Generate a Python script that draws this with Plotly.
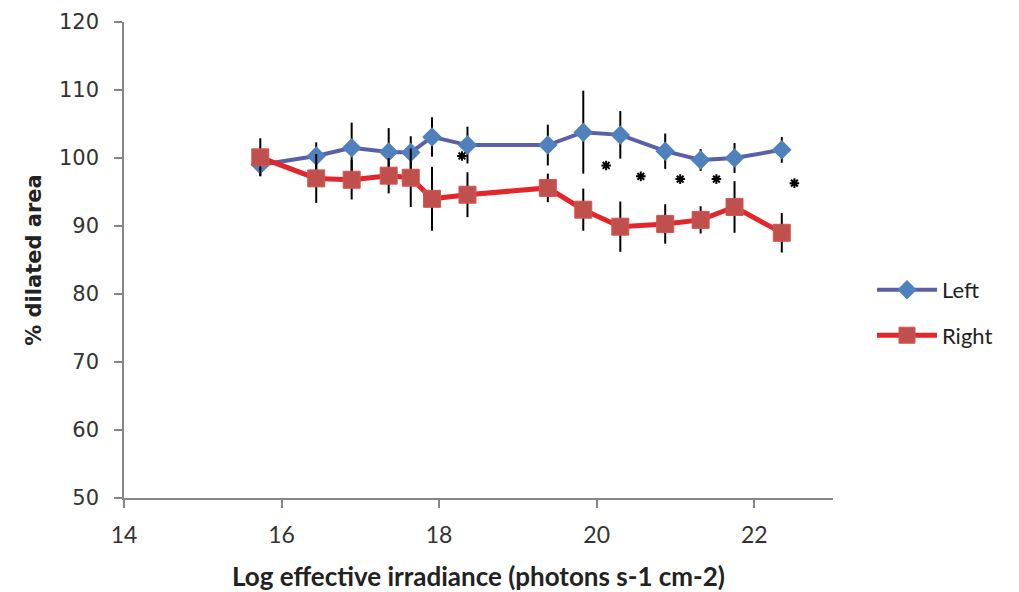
import plotly.graph_objects as go

# Data
log_irradiance = [15.73, 16.44, 16.89, 17.36, 17.64, 17.91, 18.36, 19.38, 19.83, 20.30, 20.87, 21.32, 21.75, 22.35]
left_values = [99.0, 100.3, 101.5, 100.9, 100.8, 103.1, 101.9, 101.9, 103.8, 103.4, 101.0, 99.7, 100.0, 101.2]
left_err = [1.6, 2.0, 3.7, 3.5, 2.4, 2.9, 2.7, 3.0, 6.1, 3.5, 2.6, 1.6, 2.2, 1.9]
right_values = [100.1, 97.0, 96.8, 97.4, 97.1, 94.0, 94.6, 95.6, 92.4, 89.9, 90.3, 90.9, 92.8, 89.0]
right_err = [2.8, 3.6, 2.9, 2.6, 4.3, 4.7, 3.3, 2.1, 3.1, 3.7, 2.9, 2.0, 3.8, 2.9]
star_x = [18.29, 20.12, 20.56, 21.06, 21.52, 22.51]
star_y = [100.3, 98.9, 97.3, 96.9, 96.9, 96.3]

x_ticks = [14, 16, 18, 20, 22]
y_ticks = [50, 60, 70, 80, 90, 100, 110, 120]

fig = go.Figure()

fig.add_trace(go.Scatter(
    x=log_irradiance, y=left_values, name="Left", mode="lines+markers",
    line=dict(color="#5A5FA8", width=4),
    marker=dict(symbol="diamond", size=15, color="#4F81BD", line=dict(width=0)),
    error_y=dict(type="data", array=left_err, visible=True, color="black", thickness=2, width=0),
    legendgroup="a",
))
fig.add_trace(go.Scatter(
    x=log_irradiance, y=right_values, name="Right", mode="lines+markers",
    line=dict(color="#E3262B", width=5),
    marker=dict(symbol="square", size=17, color="#C0504D", line=dict(width=1, color="#D9534F")),
    error_y=dict(type="data", array=right_err, visible=True, color="black", thickness=2, width=0),
    legendgroup="b",
))
fig.add_trace(go.Scatter(
    x=star_x, y=star_y, mode="markers", showlegend=False,
    marker=dict(symbol="asterisk-open", size=8, color="black", line=dict(width=2, color="black")),
))

fig.update_layout(
    width=1019, height=592,
    margin=dict(l=116, r=194, t=14, b=102, autoexpand=False),
    paper_bgcolor="white", plot_bgcolor="white",
    showlegend=True,
    legend=dict(
        x=1.055, y=0.389, xanchor="left", yanchor="middle",
        font=dict(family="Lato", size=22, color="#222222"),
        itemwidth=60, tracegroupgap=14, traceorder="grouped",
        bgcolor="rgba(0,0,0,0)",
    ),
    xaxis=dict(
        range=[14, 23], tickvals=x_ticks, ticktext=[str(v) for v in x_ticks],
        automargin=False,
        showgrid=False, zeroline=False, showline=True, linecolor="#868686", linewidth=1.5,
        ticks="outside", ticklen=8, tickcolor="#868686", tickwidth=1.5,
        ticklabelstandoff=8,
        tickfont=dict(family="Lato", size=23, color="#333333"),
        title=dict(text="<b>Log effective irradiance (photons s-1 cm-2)</b>",
                   font=dict(family="Lato", size=26, color="#222222"), standoff=20),
    ),
    yaxis=dict(
        range=[50, 120], tickvals=y_ticks, ticktext=[str(v) for v in y_ticks],
        automargin=False,
        showgrid=False, zeroline=False, showline=True, linecolor="#868686", linewidth=1.5,
        ticks="outside", ticklen=8, tickcolor="#868686", tickwidth=1.5,
        ticklabelstandoff=11,
        tickfont=dict(family="DejaVu Sans", size=21, color="#333333"),
        title=dict(text="<b>% dilated area</b>",
                   font=dict(family="DejaVu Sans", size=21, color="#222222"), standoff=12),
    ),
)

fig.write_html("out.html")
